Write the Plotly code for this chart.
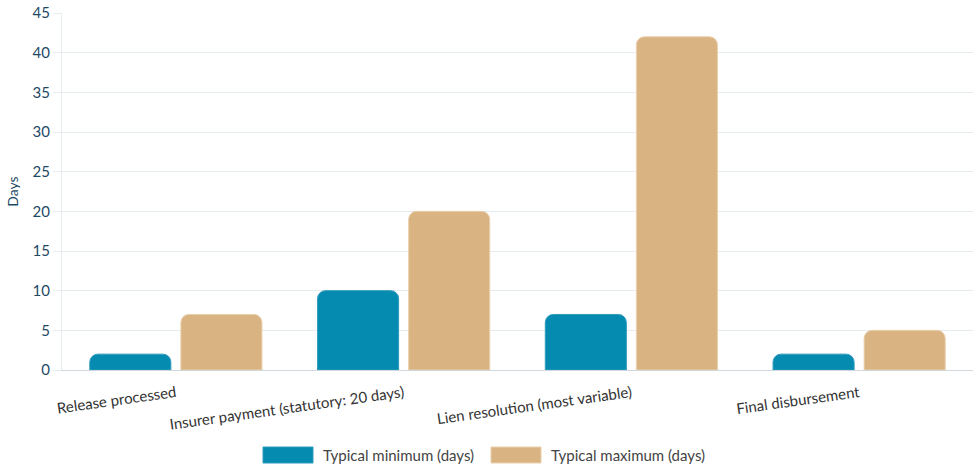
import plotly.graph_objects as go

categories = ["Release processed", "Insurer payment (statutory: 20 days)",
              "Lien resolution (most variable)", "Final disbursement"]
typical_min = [2, 10, 7, 2]
typical_max = [7, 20, 42, 5]
series_names = ["Typical minimum (days)", "Typical maximum (days)"]
series_colors = ["#068bb0", "#d9b382"]
series_borders = ["#2f9cbd", "#e8cfae"]

font_family = "Lato, 'Open Sans', sans-serif"

fig = go.Figure()
for name, vals, col, bcol in zip(series_names, [typical_min, typical_max],
                                 series_colors, series_borders):
    fig.add_trace(go.Bar(name=name, x=categories, y=vals, showlegend=False,
                         marker=dict(color=col, cornerradius=8,
                                     line=dict(color=bcol, width=1))))

# custom legend with wide colour boxes (like the reference)
W = 973
legend_items = [(263, 313, 321), (491, 541, 549)]
for (x0, x1, tx), name, col, bcol in zip(legend_items, series_names, series_colors, series_borders):
    fig.add_shape(type="rect", xref="paper", yref="paper",
                  x0=(x0 - 62) / (W - 62), x1=(x1 - 62) / (W - 62),
                  y0=(370 - 463) / 357, y1=(370 - 447) / 357,
                  fillcolor=col, line=dict(color=bcol, width=1))
    fig.add_annotation(xref="paper", yref="paper", x=(tx - 62) / (W - 62),
                       y=(370 - 455) / 357, text=name, showarrow=False,
                       xanchor="left", yanchor="middle",
                       font=dict(size=15, color="#444444"))

fig.update_layout(
    width=973, height=475,
    margin=dict(l=62, r=0, t=13, b=105),
    paper_bgcolor="white", plot_bgcolor="white",
    barmode="group", bargap=0.2, bargroupgap=0.11,
    font=dict(family=font_family, size=15, color="#333333"),
    xaxis=dict(tickangle=-8, showgrid=False, showline=True, linecolor="#cfd8dc",
               linewidth=1, ticks="", ticklabelstandoff=8,
               tickfont=dict(size=15, color="#333333")),
    yaxis=dict(range=[0, 45], dtick=5, showgrid=True, gridcolor="#e6edf1",
               zeroline=False, showline=True, linecolor="#e6edf1",
               ticks="outside", ticklen=8, tickcolor="#e6edf1",
               tickfont=dict(size=15, color="#1e4a66"),
               title=dict(text="Days", font=dict(size=14, color="#1e4a66"), standoff=10)),
)

fig.write_html("out.html")
